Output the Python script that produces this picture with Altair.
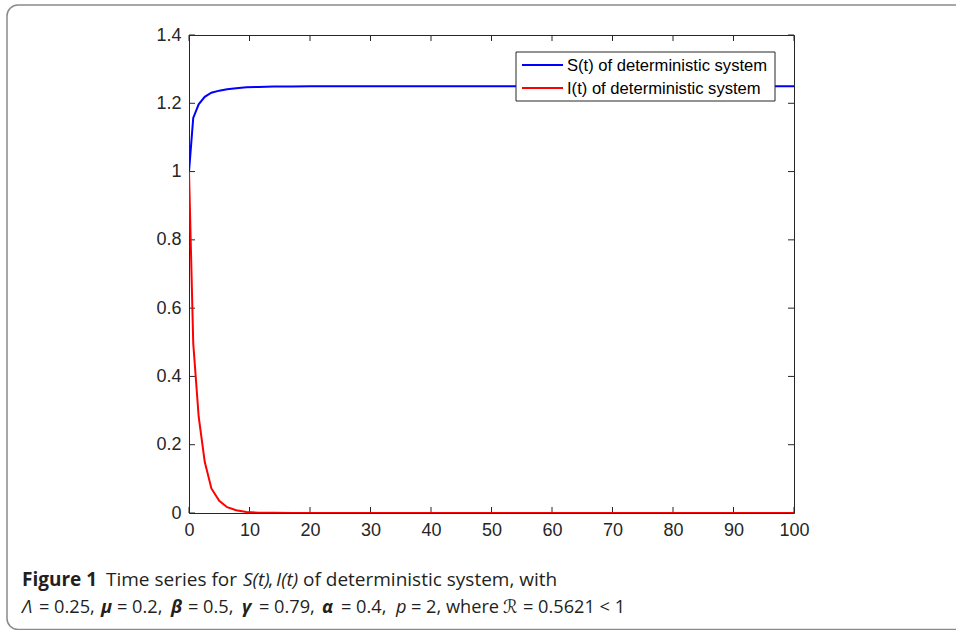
import altair as alt
import pandas as pd

# ---------------- data ----------------
t_vals = [0, 0.7, 1.6, 2.6, 3.7, 5.0, 6.3, 7.8, 9.5, 11.5, 14, 17, 20, 25, 30, 40, 50, 60, 70, 80, 90, 100]
S_vals = [1.0, 1.157, 1.197, 1.219, 1.231, 1.237, 1.241, 1.244, 1.247, 1.248, 1.249, 1.2495, 1.25, 1.25,
          1.25, 1.25, 1.25, 1.25, 1.25, 1.25, 1.25, 1.25]
I_vals = [1.0, 0.497, 0.282, 0.150, 0.072, 0.036, 0.017, 0.008, 0.003, 0.001, 0.0004, 0.0001, 0.0, 0.0,
          0.0, 0.0, 0.0, 0.0, 0.0, 0.0, 0.0, 0.0]
series_names = ["S(t) of deterministic system", "I(t) of deterministic system"]
series_colors = ["#0000FF", "#FF0000"]
x_ticks = [0, 10, 20, 30, 40, 50, 60, 70, 80, 90, 100]
y_ticks = [0, 0.2, 0.4, 0.6, 0.8, 1, 1.2, 1.4]

caption_line1 = [("Figure 1", "bold", "normal"), ("Time series for", "normal", "normal"),
                 ("S(t)", "normal", "italic"), (",", "normal", "normal"),
                 ("I(t)", "normal", "italic"), ("of deterministic system, with", "normal", "normal")]
caption_line2 = [("Λ", "normal", "italic"), ("= 0.25,", "normal", "normal"),
                 ("μ", "bold", "italic"), ("= 0.2,", "normal", "normal"),
                 ("β", "bold", "italic"), ("= 0.5,", "normal", "normal"),
                 ("γ", "bold", "italic"), ("= 0.79,", "normal", "normal"),
                 ("α", "bold", "italic"), ("= 0.4,", "normal", "normal"),
                 ("p", "normal", "italic"), ("= 2, where", "normal", "normal"),
                 ("ℛ", "normal", "italic"), ("= 0.5621 < 1", "normal", "normal")]

# ---------------- layout ----------------
W, H = 605, 478
OX, OY = 189, 35            # plot origin in the page
cap1_x = [22, 106, 243, 268, 276, 303]
cap2_x = [22, 39, 101, 117, 171, 188, 242, 259, 322, 341, 396, 411, 503, 523]
CAP1_SIZE = 19
CAP2_SIZE = 18.2
AX = "#262626"
AXFONT = "Liberation Sans"
CAPFONT = "Open Sans, DejaVu Sans"

df = pd.DataFrame({
    "t": t_vals * 2,
    "value": S_vals + I_vals,
    "series": [series_names[0]] * len(t_vals) + [series_names[1]] * len(t_vals),
})
xt = pd.DataFrame({"t": x_ticks})
yt = pd.DataFrame({"value": y_ticks})
one = pd.DataFrame({"k": [0]})

xs = alt.Scale(domain=[0, 100], nice=False, zero=False)
ys = alt.Scale(domain=[0, 1.4], nice=False, zero=False)
xaxis = alt.Axis(values=x_ticks, title=None, tickSize=0, domain=False, grid=False, labelPadding=8,
                 labelFontSize=18, labelFont=AXFONT, labelColor=AX, labelFlush=False)
yaxis = alt.Axis(values=y_ticks, title=None, tickSize=0, domain=False, grid=False, labelPadding=8,
                 labelFontSize=18, labelFont=AXFONT, labelColor=AX, format="~g")
XE = alt.X("t:Q", scale=xs, axis=xaxis)
YE = alt.Y("value:Q", scale=ys, axis=yaxis)

lines = alt.Chart(df).mark_line(strokeWidth=2, clip=True).encode(
    x=XE, y=YE,
    color=alt.Color("series:N", scale=alt.Scale(domain=series_names, range=series_colors), legend=None),
)

tick_bottom = alt.Chart(xt).mark_rule(color=AX, strokeWidth=1).encode(x=XE, y=alt.value(H), y2=alt.value(H - 6))
tick_top = alt.Chart(xt).mark_rule(color=AX, strokeWidth=1).encode(x=XE, y=alt.value(0), y2=alt.value(6))
tick_left = alt.Chart(yt).mark_rule(color=AX, strokeWidth=1).encode(y=YE, x=alt.value(0), x2=alt.value(6))
tick_right = alt.Chart(yt).mark_rule(color=AX, strokeWidth=1).encode(y=YE, x=alt.value(W - 6), x2=alt.value(W))

layers = [tick_bottom, tick_top, tick_left, tick_right, lines]

# legend box
lx0, lx1, ly0, ly1 = 516 - OX, 775 - OX, 52 - OY, 101 - OY
layers.append(alt.Chart(one).mark_rect(fill="white", stroke=AX, strokeWidth=1).encode(
    x=alt.value(lx0), x2=alt.value(lx1), y=alt.value(ly0), y2=alt.value(ly1)))
row_y = [65 - OY, 88 - OY]
for name, color, ry in zip(series_names, series_colors, row_y):
    layers.append(alt.Chart(one).mark_rule(color=color, strokeWidth=2).encode(
        x=alt.value(522 - OX), x2=alt.value(563 - OX), y=alt.value(ry)))
    layers.append(alt.Chart(one).mark_text(align="left", baseline="middle", font=AXFONT, fontSize=16.6,
                                           color="black").encode(
        x=alt.value(567 - OX), y=alt.value(ry + 1), text=alt.value(name)))

# outer rounded frame
layers.append(alt.Chart(one).mark_rect(fill="white", fillOpacity=0, stroke="#8a8a8a", strokeWidth=1.5,
                                       cornerRadius=11).encode(
    x=alt.value(7 - OX), x2=alt.value(975 - OX), y=alt.value(5 - OY), y2=alt.value(629.5 - OY)))

# caption
for (txt, wt, st), cx in zip(caption_line1, cap1_x):
    layers.append(alt.Chart(one).mark_text(align="left", baseline="alphabetic", font=CAPFONT, fontSize=CAP1_SIZE,
                                           fontWeight=wt, fontStyle=st, color="#231f20").encode(
        x=alt.value(cx - OX), y=alt.value(586 - OY), text=alt.value(txt)))
for (txt, wt, st), cx in zip(caption_line2, cap2_x):
    layers.append(alt.Chart(one).mark_text(align="left", baseline="alphabetic", font=CAPFONT, fontSize=CAP2_SIZE,
                                           fontWeight=wt, fontStyle=st, color="#231f20").encode(
        x=alt.value(cx - OX), y=alt.value(613 - OY), text=alt.value(txt)))

chart = alt.layer(*layers).properties(
    width=W, height=H,
    autosize=alt.AutoSizeParams(type="none"),
    padding={"left": OX, "top": OY, "right": 956 - OX - W, "bottom": 630 - OY - H},
    background="white",
).configure_view(stroke=AX, strokeWidth=1)

chart.save("out.html", embed_options={"renderer": "svg", "actions": False})
